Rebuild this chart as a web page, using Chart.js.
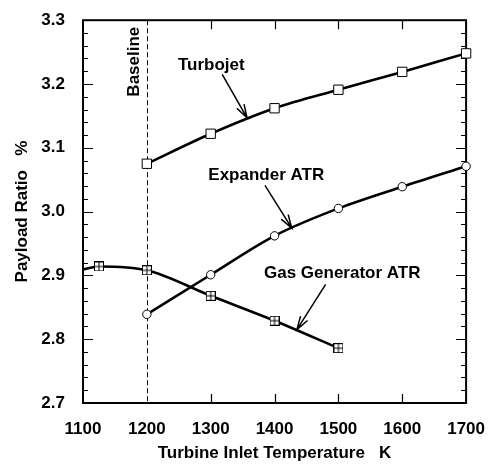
<!DOCTYPE html>
<html>
<head>
<meta charset="utf-8">
<script src="https://cdn.jsdelivr.net/npm/chart.js@4.4.1/dist/chart.umd.min.js"></script>
<style>
  html, body { margin: 0; padding: 0; background: #fff; }
  #wrap { width: 493px; height: 473px; }
</style>
</head>
<body>
<div id="wrap"><canvas id="c" width="493" height="473"></canvas></div>
<script>
// Axis ticks
const xTickValues = [1100, 1200, 1300, 1400, 1500, 1600, 1700];
const yTickLabels = ['2.7', '2.8', '2.9', '3.0', '3.1', '3.2', '3.3'];

// Payload ratio (%) against turbine inlet temperature (K)
const turbojetT = [1200, 1300, 1400, 1500, 1600, 1700];
const turbojetPayload = [3.075, 3.122, 3.162, 3.191, 3.219, 3.248];

const expanderT = [1200, 1300, 1400, 1500, 1600, 1700];
const expanderPayload = [2.839, 2.901, 2.962, 3.005, 3.039, 3.071];

const gasGenT = [1100, 1125, 1200, 1300, 1400, 1500];
const gasGenPayload = [2.909, 2.914, 2.908, 2.868, 2.829, 2.786];
const gasGenMarked = [false, true, true, true, true, true];

// Baseline temperature
const baselineT = 1200;

// Curve labels with their pointer arrows (data coordinates)
const curveNotes = [
  { text: 'Turbojet',          at: [1301, 3.230], from: [1318, 3.215], to: [1357, 3.147] },
  { text: 'Expander ATR',      at: [1387, 3.057], from: [1385, 3.041], to: [1427, 2.974] },
  { text: 'Gas Generator ATR', at: [1506, 2.904], from: [1480, 2.886], to: [1435, 2.815] }
];
const baselineNote = { text: 'Baseline', at: [1180, 3.235] };

const FONT = '"Liberation Sans", Arial, Helvetica, sans-serif';
const WEIGHT = 'bold';
const SIZE = 17;

const pts = (xs, ys) => xs.map((x, i) => ({ x, y: ys[i] }));

// Square marker with a cross inside
function crossedSquare() {
  const c = document.createElement('canvas');
  c.width = 10; c.height = 10;
  const g = c.getContext('2d');
  g.fillStyle = '#fff';
  g.fillRect(0, 0, 10, 10);
  g.strokeStyle = '#000';
  g.lineWidth = 1;
  g.strokeRect(0.5, 0.5, 9, 9);
  g.beginPath();
  g.moveTo(5, 0.5); g.lineTo(5, 9.5);
  g.moveTo(0.5, 5); g.lineTo(9.5, 5);
  g.stroke();
  return c;
}
const crossMark = crossedSquare();

// Frame, inward tick marks and the dashed baseline
const framePlugin = {
  id: 'frame',
  beforeDatasetsDraw(chart) {
    const { ctx, chartArea: a, scales: { x, y } } = chart;
    ctx.save();
    ctx.strokeStyle = '#000';

    const bx = Math.round(x.getPixelForValue(baselineT)) + 0.5;
    ctx.lineWidth = 1;
    ctx.setLineDash([5, 3]);
    ctx.beginPath();
    ctx.moveTo(bx, a.top);
    ctx.lineTo(bx, a.bottom);
    ctx.stroke();
    ctx.setLineDash([]);

    ctx.lineWidth = 1.2;
    ctx.beginPath();
    const xMin = xTickValues[0], xMax = xTickValues[xTickValues.length - 1];
    for (const v of xTickValues) {
      if (v === xMin || v === xMax || v === baselineT) continue;
      const px = Math.round(x.getPixelForValue(v)) + 0.5;
      ctx.moveTo(px, a.bottom); ctx.lineTo(px, a.bottom - 9);
      ctx.moveTo(px, a.top); ctx.lineTo(px, a.top + 9);
    }
    const yMin = +yTickLabels[0], yMax = +yTickLabels[yTickLabels.length - 1];
    const steps = Math.round((yMax - yMin) / 0.02);
    for (let i = 1; i < steps; i++) {
      const v = yMin + i * 0.02;
      const py = Math.round(y.getPixelForValue(v)) + 0.5;
      const len = i % 5 === 0 ? 10 : 5;
      ctx.moveTo(a.left, py); ctx.lineTo(a.left + len, py);
      ctx.moveTo(a.right, py); ctx.lineTo(a.right - len, py);
    }
    ctx.stroke();

    ctx.lineWidth = 2;
    ctx.strokeRect(a.left, a.top, a.right - a.left, a.bottom - a.top);
    ctx.restore();
  },
  afterDatasetsDraw(chart) {
    const { ctx, scales: { x, y } } = chart;
    const P = (p) => [x.getPixelForValue(p[0]), y.getPixelForValue(p[1])];
    ctx.save();
    ctx.fillStyle = '#000';
    ctx.strokeStyle = '#000';
    ctx.font = WEIGHT + ' ' + SIZE + 'px ' + FONT;
    ctx.textAlign = 'center';
    ctx.textBaseline = 'middle';

    for (const n of curveNotes) {
      const [tx, ty] = P(n.at);
      ctx.fillText(n.text, tx, ty);
      const [x0, y0] = P(n.from);
      const [x1, y1] = P(n.to);
      ctx.lineWidth = 1.5;
      ctx.beginPath();
      ctx.moveTo(x0, y0); ctx.lineTo(x1, y1);
      const ang = Math.atan2(y1 - y0, x1 - x0);
      const hl = 14, spread = 0.3;
      ctx.moveTo(x1 - hl * Math.cos(ang - spread), y1 - hl * Math.sin(ang - spread));
      ctx.lineTo(x1, y1);
      ctx.lineTo(x1 - hl * Math.cos(ang + spread), y1 - hl * Math.sin(ang + spread));
      ctx.stroke();
    }

    const [bx, by] = P(baselineNote.at);
    ctx.translate(bx, by);
    ctx.rotate(-Math.PI / 2);
    ctx.fillText(baselineNote.text, 0, 0);
    ctx.restore();
  }
};

const lineStyle = {
  borderColor: '#000',
  borderWidth: 2.6,
  cubicInterpolationMode: 'monotone',
  pointBorderColor: '#000',
  pointBackgroundColor: '#fff',
  pointBorderWidth: 1,
  clip: false
};

const axisFont = { family: FONT, size: SIZE, weight: WEIGHT };

new Chart(document.getElementById('c'), {
  type: 'line',
  data: {
    datasets: [
      Object.assign({
        label: 'Turbojet',
        data: pts(turbojetT, turbojetPayload),
        pointStyle: 'rect',
        pointRadius: 6.6
      }, lineStyle),
      Object.assign({
        label: 'Expander ATR',
        data: pts(expanderT, expanderPayload),
        pointStyle: 'circle',
        pointRadius: 4.2
      }, lineStyle),
      Object.assign({
        label: 'Gas Generator ATR',
        data: pts(gasGenT, gasGenPayload),
        pointStyle: crossMark,
        pointRadius: gasGenMarked.map(m => (m ? 5 : 0))
      }, lineStyle)
    ]
  },
  options: {
    responsive: false,
    animation: false,
    events: [],
    layout: { padding: { top: 17, right: 25, left: 0, bottom: 0 } },
    plugins: { legend: { display: false }, tooltip: { enabled: false } },
    scales: {
      x: {
        type: 'linear',
        min: xTickValues[0],
        max: xTickValues[xTickValues.length - 1],
        afterBuildTicks: s => { s.ticks = xTickValues.map(v => ({ value: v })); },
        afterFit: s => { s.height = 70; },
        grid: { display: false },
        border: { display: false },
        ticks: {
          color: '#000',
          padding: 8,
          maxRotation: 0,
          font: axisFont,
          callback: v => String(v)
        },
        title: {
          display: true,
          text: 'Turbine Inlet Temperature   K',
          color: '#000',
          font: axisFont,
          padding: { top: 0, bottom: 9 }
        }
      },
      y: {
        type: 'linear',
        min: +yTickLabels[0],
        max: +yTickLabels[yTickLabels.length - 1],
        afterBuildTicks: s => { s.ticks = yTickLabels.map(l => ({ value: +l })); },
        afterFit: s => { s.width = 83; },
        grid: { display: false },
        border: { display: false },
        ticks: {
          color: '#000',
          padding: 10,
          font: axisFont,
          callback: v => yTickLabels.find(l => Math.abs(+l - v) < 1e-6) || ''
        },
        title: {
          display: true,
          text: 'Payload Ratio   %',
          color: '#000',
          font: axisFont,
          padding: { top: 12, bottom: 0 }
        }
      }
    }
  },
  plugins: [framePlugin]
});
</script>
</body>
</html>
